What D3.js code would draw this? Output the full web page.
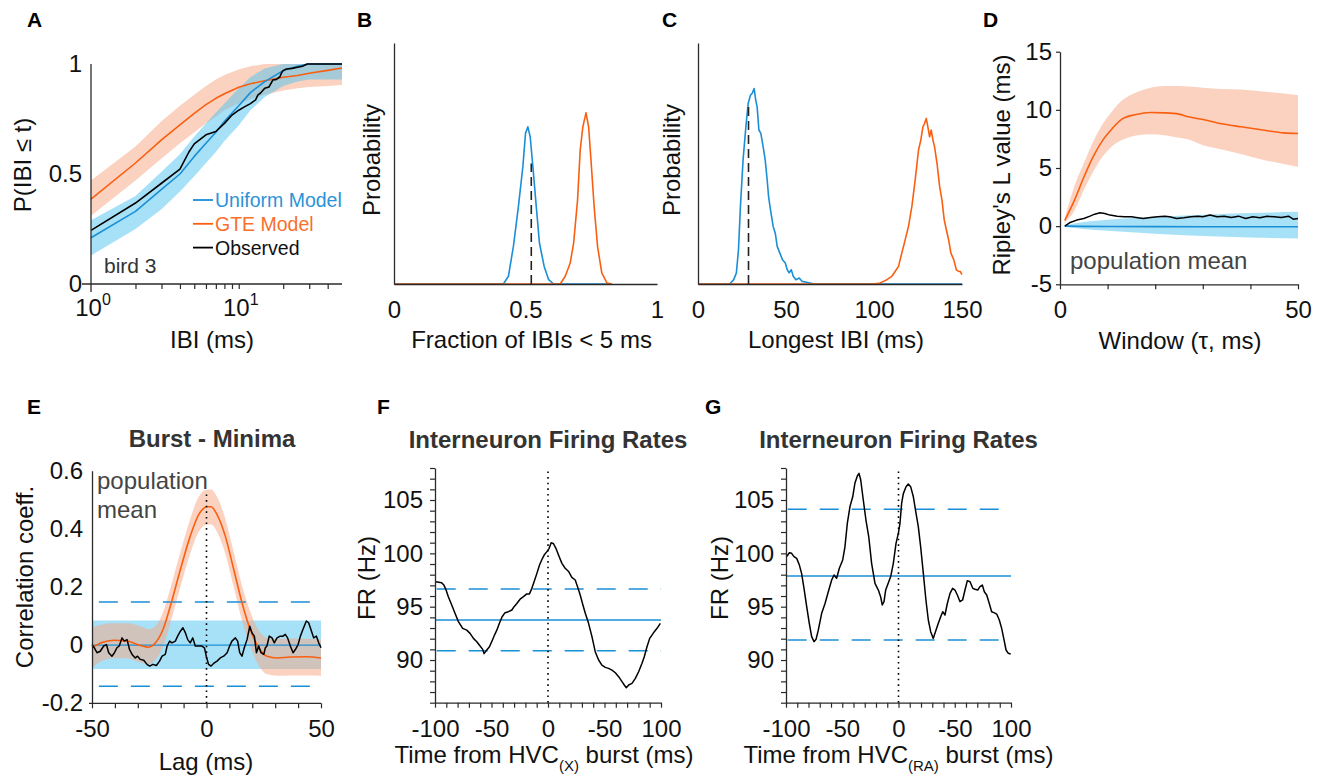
<!DOCTYPE html>
<html><head><meta charset="utf-8">
<script src="https://cdn.jsdelivr.net/npm/d3@7"></script>
<style>
body{margin:0;background:#fff}
text{font-family:"Liberation Sans",Arial,Helvetica,sans-serif}
</style></head>
<body><svg id="c" width="1321" height="780"></svg>
<script>
// ---------------- DATA ----------------
// Panel A: CDF of inter-burst intervals (bird 3)
const aTimes      = [1,2,3,4,5,6,7,8,10,12,15,20,25,30,40,50];
const aUniform    = [0.21,0.33,0.43,0.50,0.58,0.64,0.69,0.74,0.81,0.87,0.92,0.97,0.99,1.0,1.0,1.0];
const aUniformLo  = [0.13,0.25,0.34,0.42,0.49,0.55,0.60,0.65,0.72,0.79,0.85,0.90,0.92,0.93,0.93,0.93];
const aUniformHi  = [0.29,0.40,0.51,0.59,0.67,0.73,0.78,0.82,0.89,0.94,0.98,1.0,1.0,1.0,1.0,1.0];
const aGte        = [0.386,0.55,0.655,0.723,0.776,0.815,0.844,0.865,0.894,0.91,0.924,0.94,0.948,0.958,0.971,0.982];
const aGteLo      = [0.31,0.47,0.57,0.64,0.69,0.73,0.76,0.79,0.82,0.84,0.86,0.88,0.89,0.895,0.90,0.905];
const aGteHi      = [0.47,0.625,0.74,0.81,0.86,0.90,0.93,0.95,0.975,0.99,1.0,1.0,1.0,1.0,1.0,1.0];
const aObsTimes   = [1,2,3,4,4.6,5,6,7,8,9,10,11,12,13,13.5,14,15,16,17,18,19,19.5,20,21,23,25,27,29,35,50];
const aObserved   = [0.244,0.368,0.458,0.522,0.6,0.637,0.678,0.693,0.73,0.768,0.79,0.806,0.82,0.837,0.86,0.867,0.89,0.895,0.927,0.93,0.942,0.96,0.97,0.977,0.98,0.985,0.99,1.0,1.0,1.0];
const aXTickExp   = ["0","1"];
const aYTicks     = [0,0.5,1];
const legendLabels = ["Uniform Model","GTE Model","Observed"];

// Panel B: fraction of IBIs < 5 ms
const bUniformX = [0,0.416,0.435,0.454,0.473,0.490,0.500,0.509,0.518,0.528,0.541,0.553,0.571,0.588,0.607,0.82];
const bUniformY = [0,0,0.032,0.156,0.321,0.487,0.625,0.652,0.610,0.487,0.321,0.170,0.073,0.018,0,0];
const bGteX     = [0,0.632,0.651,0.670,0.683,0.698,0.708,0.718,0.730,0.740,0.749,0.761,0.774,0.790,0.810,0.829];
const bGteY     = [0,0,0.032,0.087,0.170,0.349,0.556,0.652,0.710,0.652,0.514,0.321,0.156,0.046,0.004,0];
const bObserved = 0.522, bObservedHeight = 0.50;
const bXTicks   = [0,0.5,1];

// Panel C: longest IBI
const cUniformX = [0,18.0,20.3,21.8,23.0,24.1,25.6,27.2,28.5,29.8,30.9,31.9,32.8,33.6,34.6,35.7,37.0,38.2,39.3,40.1,41.2,42.7,43.9,45.0,46.5,48.0,49.6,50.7,51.8,53.0,54.1,55.6,57.5,59.1,61.7,65.5,69.3,150];
const cUniformY = [0,0,0.018,0.046,0.142,0.321,0.514,0.652,0.749,0.783,0.793,0.811,0.763,0.735,0.639,0.625,0.570,0.514,0.432,0.363,0.308,0.239,0.211,0.156,0.128,0.101,0.087,0.059,0.046,0.059,0.032,0.018,0.025,0.011,0.007,0.001,0,0];
const cGteX     = [0,99.7,103.5,105.4,107.3,110.1,112.0,113.9,115.8,117.7,119.6,121.5,123.4,125.3,126.6,127.8,128.7,129.7,130.6,131.6,132.5,133.5,134.4,135.8,137.3,138.6,139.9,141.1,142.4,143.7,145.3,146.8,148.1,149.0,150];
const cGteY     = [0,0,0.004,0.011,0.018,0.032,0.052,0.073,0.128,0.183,0.239,0.321,0.432,0.556,0.597,0.652,0.666,0.687,0.652,0.611,0.639,0.597,0.570,0.501,0.404,0.349,0.266,0.225,0.183,0.128,0.101,0.059,0.052,0.052,0.039];
const cObserved = 28.7, cObservedHeight = 0.742;
const cXTicks   = [0,50,100,150];

// Panel D: Ripley's L
const dGteT     = [1,3,5,7,9,11,13,16,19,22,25,27,30,34,38,43,47,50];
const dGte      = [0.5,2.2,4.2,6.0,7.4,8.4,9.2,9.6,9.77,9.74,9.63,9.4,9.17,8.8,8.54,8.25,8.02,7.97];
const dGteHi    = [0.7,3.4,5.4,7.3,8.8,9.9,10.8,11.5,11.9,12.06,12.05,12.0,11.9,11.8,11.75,11.55,11.4,11.26];
const dGteLo    = [0.3,1.3,3.1,4.7,6.0,6.9,7.4,7.8,7.9,7.82,7.6,7.45,6.96,6.6,6.2,5.67,5.35,5.1];
const dUniformT = [1,5,10,20,30,40,50];
const dUniform  = [0,-0.02,-0.03,-0.04,-0.05,-0.05,-0.05];
const dUniformHi= [0.05,0.35,0.55,0.8,0.98,1.12,1.23];
const dUniformLo= [-0.05,-0.25,-0.4,-0.65,-0.85,-0.97,-1.06];
const dObsT     = [1,2,3.5,5,6.3,7.3,8.4,9.4,10.5,12,13.5,15,16,17.5,19,20.5,22,23,24.5,26,27.5,29,30,31.5,33,34.5,36,37.5,39,40.5,42,43.5,45,46.5,48,49,50];
const dObserved = [0,0.29,0.52,0.66,0.86,1.03,1.15,1.09,0.95,0.86,0.8,0.8,0.74,0.66,0.74,0.8,0.86,0.8,0.66,0.72,0.8,0.86,0.8,0.95,0.8,0.86,0.74,0.86,0.66,0.8,0.72,0.86,0.8,0.74,0.86,0.6,0.66];
const dYTicks   = [-5,0,5,10,15];
const dXTicks   = [0,10,20,30,40,50];

// Panel E: Burst - Minima cross-correlation
const eGteLag = [-50,-46,-40.5,-34.7,-28.9,-25.3,-22.3,-18.7,-15.8,-11.4,-7.1,-3.4,0.5,2,4.6,8.2,11.9,15.5,19.1,22.8,26.4,30.8,36.6,43.9,50];
const eGte    = [-0.009,0.008,0.017,0.014,-0.001,-0.007,0.008,0.06,0.134,0.26,0.375,0.449,0.476,0.476,0.449,0.375,0.26,0.146,0.054,-0.009,-0.038,-0.044,-0.041,-0.040,-0.044];
const eGteHi  = [0.06,0.07,0.075,0.075,0.065,0.055,0.065,0.12,0.195,0.32,0.435,0.51,0.535,0.535,0.51,0.435,0.32,0.205,0.115,0.05,0.025,0.022,0.023,0.022,0.02];
const eGteLo  = [-0.078,-0.055,-0.045,-0.045,-0.06,-0.065,-0.05,0.0,0.075,0.2,0.315,0.39,0.415,0.415,0.39,0.315,0.2,0.085,-0.005,-0.07,-0.1,-0.105,-0.104,-0.104,-0.105];
const eUniformLag = [-50,50];
const eUniform    = [0,0];
const eUniformHi  = [0.085,0.085];
const eUniformLo  = [-0.082,-0.082];
const eThresholds = [0.148,-0.141];
const eObsLag = [-50,-49,-47.8,-46.4,-44.9,-43.7,-42.7,-41.3,-40.2,-39.1,-38.1,-36.9,-35.9,-34.7,-33.6,-32.5,-31.1,-30.1,-28.9,-27.4,-26,-24.8,-23.4,-21.9,-20.5,-19.4,-18,-17.2,-16.1,-15.1,-13.6,-12.6,-11.4,-10.3,-9.2,-8.2,-7.1,-6.0,-4.9,-3.4,-2.0,-0.9,-0.1,0.9,2.0,3.1,4.6,6.0,7.5,9.0,10.1,11.1,12.6,13.6,14.5,15.5,16.5,17.7,18.9,19.9,20.9,21.8,22.8,23.8,25.0,25.7,26.4,27.4,28.6,29.6,30.8,32.2,33.4,34.4,35.4,36.6,37.8,38.8,40.0,41.0,42.1,43.6,44.6,45.6,46.8,48.0,49.0,50];
const eObserved = [0.002,-0.009,-0.026,-0.021,-0.003,0.002,-0.026,-0.038,-0.026,-0.009,-0.003,0.025,0.014,0.019,-0.015,-0.032,-0.044,-0.038,-0.049,-0.052,-0.066,-0.072,-0.066,-0.07,-0.055,-0.038,-0.032,-0.003,0.014,0.008,0.014,0.031,0.048,0.06,0.042,0.019,0.008,0.025,-0.003,-0.003,-0.003,-0.009,-0.038,-0.066,-0.072,-0.063,-0.055,-0.044,-0.038,-0.026,-0.003,0.014,0.025,0.014,-0.026,-0.038,-0.009,0.019,0.065,0.042,0.031,-0.026,-0.003,-0.026,-0.032,-0.009,-0.003,0.031,0.025,0.008,0.025,0.031,0.031,0.037,0.025,-0.003,-0.026,-0.015,0.002,0.031,0.054,0.083,0.077,0.054,0.025,0.031,0.008,-0.009];
const eYTicks = [-0.2,0,0.2,0.4,0.6];
const eYTickLabels = ["-0.2","0","0.2","0.4","0.6"];
const eXTicks = [-50,-40,-30,-20,-10,0,10,20,30,40,50];

// Panel F: interneuron rates around HVC(X) bursts
const fTime = [-99.4,-96.7,-94.1,-92,-90.2,-88.2,-85.2,-82.3,-79.3,-75.5,-71.9,-69,-66,-63,-60.1,-57.8,-56.6,-54.2,-51.8,-49.8,-47.7,-45.3,-43,-40.6,-38,-35,-32,-30,-27.6,-24.7,-21.7,-18.8,-16.4,-14.3,-12.3,-9.9,-7.5,-5.5,-3.4,-1,1,2.8,4.9,7,9.3,12.3,15.2,18.2,21.1,24.1,26.1,28.5,30.9,33,35.9,38.9,41.8,44.8,47.7,50.7,53.6,56.6,59.6,62.5,65.5,67.5,69.3,71.4,74.3,77.3,80.2,83.2,85.2,87.6,90,92,94.1,96.5,99.4];
const fRate = [97.34,97.3,97.25,97.0,96.56,95.94,95.16,94.38,93.6,92.97,92.8,92.5,92.03,91.72,91.31,91.0,90.6,90.94,91.25,91.72,92.25,92.8,93.44,94.06,94.44,94.53,94.69,95,95.3,95.7,95.94,96.2,96.2,96.72,97.34,98.1,98.9,99.4,99.84,100.16,100.47,101,100.9,100.47,99.84,99.06,98.6,98.3,97.75,97.5,96.88,96.1,95.16,94.38,93.44,92.19,90.78,90,89.53,89.31,89.22,89.06,88.81,88.44,87.97,87.66,87.4,87.66,87.81,88.28,88.9,89.69,90.31,91.25,92.03,92.34,92.66,92.97,93.44];
const fMean = 93.75, fUpper = 96.66, fLower = 90.875;

// Panel G: interneuron rates around HVC(RA) bursts
const gTime = [-99.4,-97,-95,-92.9,-90.5,-88.1,-86.1,-84,-81.6,-79.3,-77.2,-75.1,-73.3,-71.3,-68.3,-65.3,-62.4,-59.4,-57.3,-55,-52.6,-49.6,-47.6,-45.5,-43.1,-40.7,-38.7,-36.6,-35.1,-33.6,-31.3,-28.9,-26.5,-23.9,-20.9,-17.9,-15.9,-14.4,-12.9,-11.4,-9,-7,-4.6,-2.2,-0.1,1.3,2.8,4.3,6.7,8.7,10.8,13.2,15.6,17.6,19.7,22.1,24.4,26.5,28.6,30.9,33.3,35.4,37.5,39.3,41.3,43.4,45.8,48.1,50.2,52.3,54.7,57,59.1,61.2,63.6,66,68,70.4,72.4,74.5,76.3,78.4,80.7,82.8,84.9,87.3,89.6,91.7,93.8,95.6,97.6,99.7];
const gRate = [99.69,100.06,100.0,99.69,99.53,98.9,98.1,96.72,95,93.44,92.19,91.72,91.94,92.8,94.38,95.3,96.4,97.5,97.97,97.66,98.6,99.38,100.6,102.8,104.4,105.3,106.6,107.25,107.5,106.9,105,103.1,101.6,99.06,97.19,96.56,95.94,95.16,95.47,96.56,97.25,97.8,99.06,100.94,101.9,102.8,104.7,105.6,106.25,106.5,106.25,105.3,103.75,102.5,100.6,98.1,95.6,93.75,92.66,92.03,92.8,93.44,94.06,94.53,94.22,95.3,96.25,96.72,96.56,96.1,95.47,95.63,96.56,97.44,97.34,96.72,96.63,96.56,96.88,97.03,96.4,96.1,95.3,94.53,94.44,94.31,93.75,92.97,91.88,90.94,90.63,90.56];
const gMean = 97.875, gUpper = 104.125, gLower = 91.875;

const frYTicks = [90,95,100,105];
const frXTicks = [-100,-50,0,50,100];
const frXTickLabels = ["-100","-50","0","-50","100"];

// ---------------- DRAWING ----------------
const BLUE = "#1b8fd6", ORANGE = "#f95f10", BLUEBAND = "#4fc4ef", ORANGEBAND = "#f8a682";
const AXIS = "#2a2a2a", TXT = "#111", FS = 24;
const svg = d3.select("#c");

function zipXY(xs, ys){ return xs.map((x,i)=>[x, ys[i]]); }
function drawLine(g, xs, ys, x, y, color, w, dash, curve){
  const p = g.append("path")
    .attr("d", d3.line().x(d=>x(d[0])).y(d=>y(d[1])).curve(curve||d3.curveLinear)(zipXY(xs,ys)))
    .attr("fill","none").attr("stroke",color).attr("stroke-width",w||1.6)
    .attr("stroke-linejoin","round");
  if (dash) p.attr("stroke-dasharray", dash);
  return p;
}
function drawBand(g, xs, lo, hi, x, y, color, op, curve){
  g.append("path")
    .attr("d", d3.area().x(d=>x(d[0])).y0(d=>y(d[1])).y1(d=>y(d[2])).curve(curve||d3.curveLinear)(xs.map((v,i)=>[v,lo[i],hi[i]])))
    .attr("fill", color).attr("fill-opacity", op);
}
function styleAxis(ax){
  ax.selectAll("path.domain").attr("stroke", AXIS).attr("stroke-width", 1.3);
  ax.selectAll("line").attr("stroke", AXIS).attr("stroke-width", 1.2);
  ax.selectAll("text").attr("font-size", FS).attr("fill", TXT)
    .attr("font-family", '"Liberation Sans",Arial,sans-serif');
  ax.attr("font-family", null).attr("font-size", null);
}
function xTitle(x, yb, str){
  return svg.append("text").attr("x", x).attr("y", yb).attr("text-anchor","middle")
    .attr("font-size", FS).attr("fill", TXT).text(str);
}
function yTitle(xb, yc, str){
  return svg.append("text").attr("transform", `translate(${xb},${yc}) rotate(-90)`)
    .attr("text-anchor","middle").attr("font-size", FS).attr("fill", TXT).text(str);
}
function letter(x, yb, s){
  svg.append("text").attr("x",x).attr("y",yb).attr("font-size",21).attr("font-weight","bold").attr("fill","#000").text(s);
}
function title(x, yb, s){
  svg.append("text").attr("x",x).attr("y",yb).attr("text-anchor","middle").attr("font-size",24)
    .attr("font-weight","bold").attr("fill","#333").text(s);
}

// ---- Panel A ----
{
  const x = d3.scaleLog().domain([1,50]).range([91,342]);
  const y = d3.scaleLinear().domain([0,1]).range([284,64]);
  const g = svg.append("g");
  drawBand(g, aTimes, aGteLo, aGteHi, x, y, ORANGEBAND, 0.5);
  drawBand(g, aTimes, aUniformLo, aUniformHi, x, y, BLUEBAND, 0.5);
  drawLine(g, aTimes, aGte, x, y, ORANGE, 1.6);
  drawLine(g, aTimes, aUniform, x, y, BLUE, 1.6);
  drawLine(g, aObsTimes, aObserved, x, y, "#000", 1.6);
  const ax = svg.append("g").attr("transform","translate(0,284)")
    .call(d3.axisBottom(x).tickValues([2,3,4,5,6,7,8,9,10,20,30,40]).tickFormat("").tickSize(5).tickSizeOuter(0));
  styleAxis(ax);
  ax.select("path.domain").attr("d", `M82,0H342`);
  const ay = svg.append("g").attr("transform","translate(91,0)")
    .call(d3.axisLeft(y).tickValues(aYTicks).tickFormat(d=>d===0.5?"0.5":d3.format("d")(d)).tickSize(0).tickPadding(9));
  styleAxis(ay);
  ay.select("path.domain").attr("d", `M0,64V292`);
  aXTickExp.forEach((e,i)=>{
    const t = svg.append("text").attr("x", x(Math.pow(10,i))+2).attr("y", 316).attr("text-anchor","middle")
      .attr("font-size", FS).attr("fill", TXT).text("10");
    t.append("tspan").attr("dy",-11).attr("font-size",16).text(e);
  });
  xTitle(212, 348, "IBI (ms)");
  yTitle(31, 165, "P(IBI ≤ t)");
  const cols = [BLUE, ORANGE, "#000"], tcols = ["#2b93d8","#f8702c","#111"];
  legendLabels.forEach((l,i)=>{
    const yy = 200 + i*23.8;
    svg.append("line").attr("x1",193).attr("x2",213).attr("y1",yy).attr("y2",yy).attr("stroke",cols[i]).attr("stroke-width",1.8);
    svg.append("text").attr("x",215).attr("y",yy+7).attr("font-size",19.5).attr("fill",tcols[i]).text(l);
  });
  svg.append("text").attr("x",104).attr("y",273).attr("font-size",21).attr("fill","#333").text("bird 3");
  letter(27, 27, "A");
}

// ---- Panels B and C ----
function distPanel(x0, x1, dom, ticks, fmt, uX, uY, gX, gY, obs, obsH, xlab, ylabX, letterX, lab){
  const x = d3.scaleLinear().domain(dom).range([x0,x1]);
  const y = d3.scaleLinear().domain([0,1]).range([284,43]);
  const g = svg.append("g");
  const ax = svg.append("g").attr("transform","translate(0,284)")
    .call(d3.axisBottom(x).tickValues(ticks).tickFormat(fmt).tickSize(0).tickPadding(17));
  styleAxis(ax);
  const ay = svg.append("g").attr("transform",`translate(${x0},0)`)
    .call(d3.axisLeft(y).tickValues([]).tickSizeOuter(0));
  styleAxis(ay);
  drawLine(g, uX, uY, x, y, BLUE, 1.6);
  drawLine(g, gX, gY, x, y, ORANGE, 1.6);
  g.append("line").attr("x1",x(obs)).attr("x2",x(obs)).attr("y1",y(0)).attr("y2",y(obsH))
    .attr("stroke","#222").attr("stroke-width",1.6).attr("stroke-dasharray","9,5");
  xTitle((x0+x1)/2 + 6, 348, xlab);
  yTitle(ylabX, 160, "Probability");
  letter(letterX, 27, lab);
}
distPanel(394, 657, [0,1], bXTicks, d=>d===0.5?"0.5":String(d), bUniformX, bUniformY, bGteX, bGteY, bObserved, bObservedHeight, "Fraction of IBIs < 5 ms", 380, 357, "B");
distPanel(698, 962, [0,150], cXTicks, d=>String(d), cUniformX, cUniformY, cGteX, cGteY, cObserved, cObservedHeight, "Longest IBI (ms)", 680, 662, "C");

// ---- Panel D ----
{
  const x = d3.scaleLinear().domain([0,50]).range([1060,1298]);
  const y = d3.scaleLinear().domain([-5,15]).range([284.3,51.7]);
  const g = svg.append("g");
  drawBand(g, dGteT, dGteLo, dGteHi, x, y, ORANGEBAND, 0.5, d3.curveMonotoneX);
  drawBand(g, dUniformT, dUniformLo, dUniformHi, x, y, BLUEBAND, 0.5, d3.curveMonotoneX);
  drawLine(g, dGteT, dGte, x, y, ORANGE, 1.6, null, d3.curveMonotoneX);
  drawLine(g, dUniformT, dUniform, x, y, BLUE, 1.6);
  drawLine(g, dObsT, dObserved, x, y, "#000", 1.5);
  const ax = svg.append("g").attr("transform","translate(0,284.3)")
    .call(d3.axisBottom(x).tickValues(dXTicks).tickFormat(d=>(d===0||d===50)?String(d):"").tickSize(5).tickPadding(12).tickSizeOuter(0));
  styleAxis(ax);
  const ay = svg.append("g").attr("transform","translate(1060,0)")
    .call(d3.axisLeft(y).tickValues(dYTicks).tickFormat(d=>String(d)).tickSize(4).tickPadding(4).tickSizeOuter(0));
  styleAxis(ay);
  xTitle(1180, 349, "Window (τ, ms)");
  yTitle(1010, 165, "Ripley's L value (ms)");
  svg.append("text").attr("x",1070).attr("y",269).attr("font-size",24).attr("fill","#444").text("population mean");
  letter(983, 27, "D");
}

// ---- Panel E ----
{
  const x = d3.scaleLinear().domain([-50,50]).range([92,321]);
  const y = d3.scaleLinear().domain([-0.2,0.6]).range([703.3,470.7]);
  const g = svg.append("g");
  drawBand(g, eUniformLag, eUniformLo, eUniformHi, x, y, BLUEBAND, 0.5);
  drawBand(g, eGteLag, eGteLo, eGteHi, x, y, ORANGEBAND, 0.5, d3.curveMonotoneX);
  drawLine(g, eUniformLag, eUniform, x, y, BLUE, 1.3);
  eThresholds.forEach(t=>drawLine(g, [-47,50], [t,t], x, y, BLUE, 1.5, "19,13"));
  drawLine(g, eGteLag, eGte, x, y, ORANGE, 1.6, null, d3.curveMonotoneX);
  drawLine(g, eObsLag, eObserved, x, y, "#000", 1.5);
  g.append("line").attr("x1",x(0)).attr("x2",x(0)).attr("y1",y(-0.2)).attr("y2",y(0.52))
    .attr("stroke","#000").attr("stroke-width",1.6).attr("stroke-dasharray","1.6,4");
  const ax = svg.append("g").attr("transform","translate(0,703.3)")
    .call(d3.axisBottom(x).tickValues(eXTicks).tickFormat(d=>(d%50===0)?String(d):"").tickSize(5).tickPadding(12).tickSizeOuter(0));
  styleAxis(ax);
  ax.select("path.domain").attr("d","M89,0H321");
  const ay = svg.append("g").attr("transform","translate(92,0)")
    .call(d3.axisLeft(y).tickValues(eYTicks).tickFormat((d,i)=>eYTickLabels[i]).tickSize(0).tickPadding(9).tickSizeOuter(0));
  styleAxis(ay);
  xTitle(206, 770, "Lag (ms)");
  yTitle(33, 577, "Correlation coeff.");
  title(212, 447, "Burst - Minima");
  svg.append("text").attr("x",97).attr("y",489).attr("font-size",24).attr("fill","#444").text("population");
  svg.append("text").attr("x",97).attr("y",518).attr("font-size",24).attr("fill","#444").text("mean");
  letter(27, 414, "E");
}

// ---- Panels F and G ----
function frPanel(x0, x1, times, rates, mean, up, lo, sub, ylabX, lab, labX, off){
  const x = d3.scaleLinear().domain([-100,100]).range([x0,x1]);
  const y = d3.scaleLinear().domain([86,108]).range([702.7,468]);
  const g = svg.append("g");
  drawLine(g, [-100,100], [mean,mean], x, y, BLUE, 1.5);
  drawLine(g, [-98.5,100], [up,up], x, y, BLUE, 1.5, "19,13");
  drawLine(g, [-98.5,100], [lo,lo], x, y, BLUE, 1.5, "19,13");
  drawLine(g, times, rates, x, y, "#000", 1.5);
  g.append("line").attr("x1",x(0)).attr("x2",x(0)).attr("y1",y(86)).attr("y2",y(108))
    .attr("stroke","#000").attr("stroke-width",1.6).attr("stroke-dasharray","1.6,4");
  const ax = svg.append("g").attr("transform","translate(0,702.7)")
    .call(d3.axisBottom(x).tickValues(d3.range(-100,101,10)).tickFormat(d=>{const i=frXTicks.indexOf(d);return i>=0?frXTickLabels[i]:"";}).tickSize(5).tickPadding(12).tickSizeOuter(0));
  styleAxis(ax);
  const ay = svg.append("g").attr("transform",`translate(${x0},0)`)
    .call(d3.axisLeft(y).tickValues(d3.range(86,109,1)).tickFormat(d=>frYTicks.includes(d)?String(d):"").tickSize(5).tickPadding(7).tickSizeOuter(0));
  styleAxis(ay);
  const t = svg.append("text").attr("x",(x0+x1)/2 + off).attr("y",763).attr("text-anchor","middle")
    .attr("font-size",FS).attr("fill",TXT).text("Time from HVC");
  t.append("tspan").attr("dy",8).attr("font-size",15).text(sub);
  t.append("tspan").attr("dy",-8).attr("font-size",FS).text(" burst (ms)");
  yTitle(ylabX, 578, "FR (Hz)");
  title((x0+x1)/2, 448, "Interneuron Firing Rates");
  letter(labX, 414, lab);
}
frPanel(435, 661, fTime, fRate, fMean, fUpper, fLower, "(X)", 375, "F", 377, -4);
frPanel(786, 1011, gTime, gRate, gMean, gUpper, gLower, "(RA)", 728, "G", 705, 0);
</script>
</body></html>
